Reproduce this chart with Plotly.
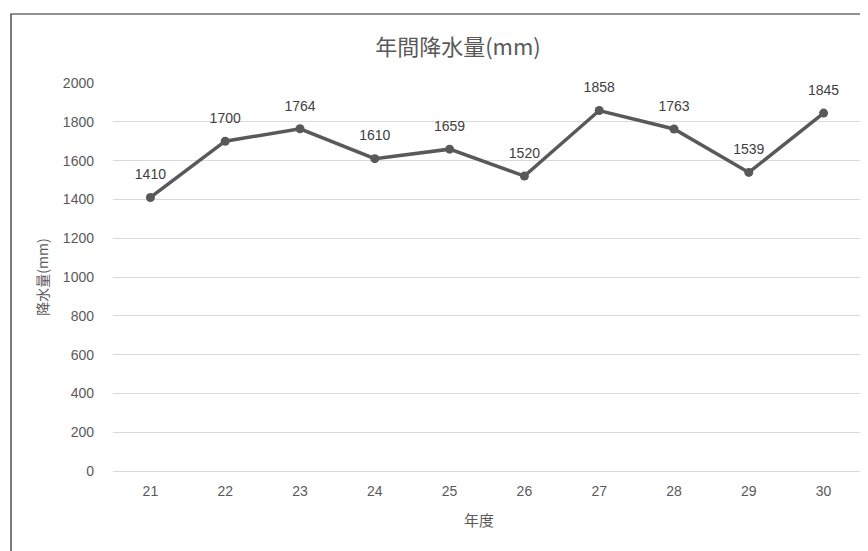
import plotly.graph_objects as go

years = ["21", "22", "23", "24", "25", "26", "27", "28", "29", "30"]
rainfall = [1410, 1700, 1764, 1610, 1659, 1520, 1858, 1763, 1539, 1845]

OFF = 8  # page body margin
W, H = 868 - OFF, 551 - OFF
L, R, T, B = 113 - OFF, 7, 83 - OFF, 80
pw, ph = W - L - R, H - T - B

fig = go.Figure()
fig.add_trace(go.Scatter(
    x=years, y=rainfall, mode="lines+markers",
    line=dict(color="#595959", width=3.5),
    marker=dict(color="#595959", size=9),
    cliponaxis=False, showlegend=False, hoverinfo="x+y",
))
# data labels (transparent larger markers give the label offset)
fig.add_trace(go.Scatter(
    x=years, y=rainfall, mode="markers+text",
    text=[str(v) for v in rainfall], textposition="top center",
    textfont=dict(size=14, color="#404040", family="Liberation Sans"),
    marker=dict(color="rgba(0,0,0,0)", size=22),
    cliponaxis=False, showlegend=False, hoverinfo="skip",
))

fig.add_shape(type="rect", xref="paper", yref="paper",
              x0=(3 - L) / pw, x1=1.2, y0=-0.5, y1=(H - B - 6) / ph,
              line=dict(color="#262626", width=1.2), fillcolor="rgba(0,0,0,0)", layer="below")

# x-axis title
fig.add_annotation(text="年度", xref="paper", yref="paper",
                   x=(479 - 113) / pw, y=-(519 - 471) / ph, xanchor="center", yanchor="middle",
                   showarrow=False, font=dict(size=15, color="#595959", family="Noto Sans CJK JP"))

fig.update_layout(
    width=W, height=H,
    margin=dict(l=L, r=R, t=T, b=B, autoexpand=False),
    paper_bgcolor="white", plot_bgcolor="white",
    font=dict(family="Noto Sans CJK JP", color="#595959"),
    title=dict(text="年間降水量(mm)", x=(458 - OFF) / W, xanchor="center", y=1 - (47 - OFF) / H, yanchor="middle",
               font=dict(size=22, color="#595959", family="Noto Sans CJK JP")),
    xaxis=dict(type="category", range=[-0.5, 9.5], showgrid=False, showline=False, ticks="",
               automargin=False, ticklabelstandoff=10,
               tickfont=dict(size=14, color="#595959", family="Liberation Sans")),
    yaxis=dict(range=[0, 2000], dtick=200, showgrid=True, gridcolor="#d9d9d9", gridwidth=1,
               zeroline=True, zerolinecolor="#d9d9d9", zerolinewidth=1, ticks="",
               automargin=False, ticklabelstandoff=18,
               tickfont=dict(size=14, color="#595959", family="Liberation Sans"),
               title=dict(text="降水量(mm)", font=dict(size=14, color="#595959"), standoff=10)),
)

fig.write_html("out.html")
